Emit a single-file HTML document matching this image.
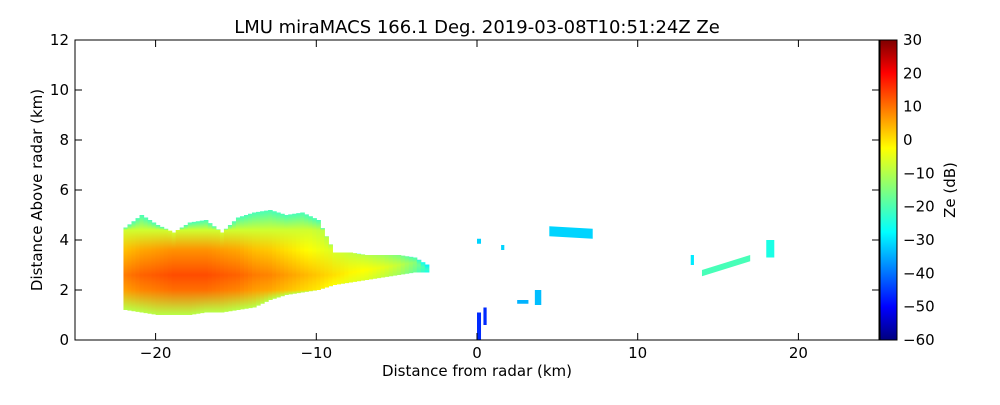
<!DOCTYPE html>
<html><head><meta charset="utf-8"><style>
body{margin:0;background:#fff;font-family:"Liberation Sans",sans-serif}
svg text{font-family:"DejaVu Sans","Liberation Sans",sans-serif}
</style></head><body>
<svg id="c" width="1000" height="400" xmlns="http://www.w3.org/2000/svg">
<defs><linearGradient id="cb" x1="0" y1="1" x2="0" y2="0">
<stop offset="0" stop-color="#00007f"/><stop offset="0.11" stop-color="#0000ff"/><stop offset="0.36" stop-color="#00ffff"/><stop offset="0.5" stop-color="#7fff7f"/><stop offset="0.64" stop-color="#ffff00"/><stop offset="0.89" stop-color="#ff0000"/><stop offset="1" stop-color="#7f0000"/></linearGradient></defs>
<text x="477" y="33" font-size="18" text-anchor="middle">LMU miraMACS 166.1 Deg. 2019-03-08T10:51:24Z  Ze</text>
<g id="marks"></g>
<rect x="75" y="40" width="804" height="300" fill="none" stroke="#000"/>
<g id="axes"></g>
<rect x="880" y="40" width="17" height="300" fill="url(#cb)" stroke="#000"/>
<text transform="translate(955,190) rotate(-90)" font-size="15" text-anchor="middle">Ze (dB)</text>
<text x="477" y="376" font-size="15" text-anchor="middle">Distance from radar (km)</text>
<text transform="translate(42,190) rotate(-90)" font-size="15" text-anchor="middle">Distance Above radar  (km)</text>
</svg>
<script>
const xTicks=[-20,-10,0,10,20];
const yTicks=[0,2,4,6,8,10,12];
const cbTicks=[-60,-50,-40,-30,-20,-10,0,10,20,30];
const colX=[-22,-21,-20,-19,-18,-17,-16,-15,-14,-13,-12,-11,-10,-9,-8,-7,-6,-5,-4,-3.2];
const colBottom=[1.2,1.1,1.0,1.0,1.0,1.1,1.1,1.2,1.3,1.6,1.8,1.9,2.0,2.2,2.3,2.4,2.5,2.6,2.7,2.7];
const colTop=[4.5,5.0,4.6,4.3,4.7,4.8,4.3,4.9,5.1,5.2,5.0,5.1,4.8,3.5,3.5,3.4,3.4,3.4,3.3,3.0];
const colPeak=[8,10,11,12,12,12,11,10,8,7,5,3,1,-1,-3,-4,-6,-9,-14,-22];
// small echoes: x0,x1,y0,y1,rise(km over width),value
const echoX0=[4.5,13.3,14,18,0.0,0.4,2.5,3.6,0.0,1.5];
const echoX1=[7.2,13.5,17,18.5,0.25,0.6,3.2,4.0,0.25,1.7];
const echoY0=[4.15,3.0,2.55,3.3,0.0,0.6,1.45,1.4,3.85,3.6];
const echoY1=[4.55,3.4,2.8,4.0,1.1,1.3,1.6,2.0,4.05,3.8];
const echoRise=[-0.1,0,0.6,0,0,0,0,0,0,0];
const echoV=[-30,-28,-20,-24,-45,-45,-33,-32,-30,-30];
const X=v=>477+v*16.07, Y=v=>340-v*25, CB=v=>340-(v+60)/90*300;
const NS="http://www.w3.org/2000/svg";
function jet(v){let t=(v+60)/90;t=Math.max(0,Math.min(1,t));
 const f=x=>Math.round(255*Math.max(0,Math.min(1,1.5-Math.abs(4*t-x))));
 return `rgb(${f(3)},${f(2)},${f(1)})`;}
function el(tag,a,p){const e=document.createElementNS(NS,tag);for(const k in a)e.setAttribute(k,a[k]);p.appendChild(e);return e;}
const marks=document.getElementById('marks'), defs=document.querySelector('defs'), axes=document.getElementById('axes');
const lerp=(a,i,f)=>a[i]+(a[Math.min(i+1,a.length-1)]-a[i])*f;
const step=0.25;let gi=0;
for(let i=0;i<colX.length-1;i++){
 for(let x=colX[i];x<colX[i+1]-1e-6;x+=step){
  const f=(x-colX[i])/(colX[i+1]-colX[i]);
  const b=lerp(colBottom,i,f),t=lerp(colTop,i,f),p=lerp(colPeak,i,f);
  const core=Math.min(Math.max(2.6,b+0.4),t-0.2);
  const g=el('linearGradient',{id:'g'+gi,x1:0,y1:1,x2:0,y2:0},defs);
  const o=v=>Math.max(0,Math.min(1,(v-b)/(t-b)));
  el('stop',{offset:0,'stop-color':jet(Math.min(p-6,-10))},g);
  el('stop',{offset:o(core-0.6),'stop-color':jet(p-3)},g);
  el('stop',{offset:o(core),'stop-color':jet(p)},g);
  el('stop',{offset:o(core+1.0),'stop-color':jet(p-6)},g);
  el('stop',{offset:o(core+1.8),'stop-color':jet(Math.min(p-10,-8))},g);
  el('stop',{offset:1,'stop-color':jet(Math.min(p-20,-20))},g);
  const r=el('rect',{x:X(x),y:Y(t),width:step*16.07+0.6,height:Y(b)-Y(t),fill:`url(#g${gi})`},marks);
  
  
  gi++;
 }
}
for(let i=0;i<echoV.length;i++){
 const x0=X(echoX0[i]),x1=X(echoX1[i]),d=echoRise[i]*25;
 const pts=`${x0},${Y(echoY0[i])} ${x1},${Y(echoY0[i])-d} ${x1},${Y(echoY1[i])-d} ${x0},${Y(echoY1[i])}`;
 const r=el('polygon',{points:pts,fill:jet(echoV[i])},marks);
 
 
}
xTicks.forEach(v=>{el('line',{x1:X(v),x2:X(v),y1:340,y2:333,stroke:'#000'},axes);el('line',{x1:X(v),x2:X(v),y1:40,y2:47,stroke:'#000'},axes);
 const t=el('text',{x:X(v),y:358,'font-size':15,'text-anchor':'middle'},axes);t.textContent=v<0?'\u2212'+(-v):v;
 
 });
yTicks.forEach(v=>{el('line',{x1:75,x2:82,y1:Y(v),y2:Y(v),stroke:'#000'},axes);el('line',{x1:872,x2:879,y1:Y(v),y2:Y(v),stroke:'#000'},axes);
 const t=el('text',{x:69,y:Y(v)+5,'font-size':15,'text-anchor':'end'},axes);t.textContent=v;
 
 });
cbTicks.forEach(v=>{el('line',{x1:893,x2:897,y1:CB(v),y2:CB(v),stroke:'#000'},axes);
 const t=el('text',{x:903,y:CB(v)+5,'font-size':15},axes);t.textContent=v<0?'\u2212'+(-v):v;
 
 });
</script>
</body></html>
